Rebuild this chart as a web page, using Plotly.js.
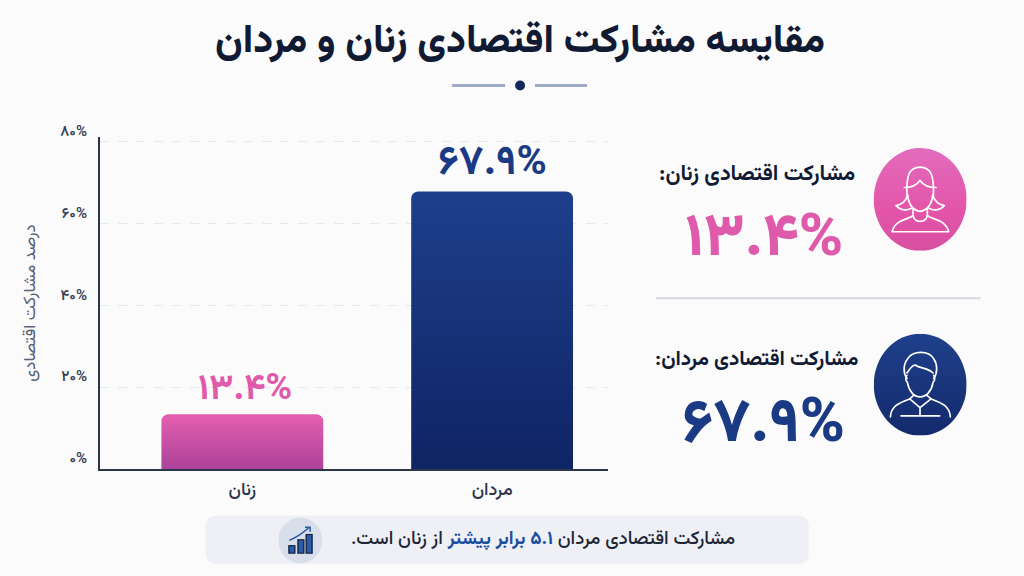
<!DOCTYPE html>
<html lang="fa"><head><meta charset="utf-8">
<script src="https://cdn.plot.ly/plotly-3.0.1.min.js"></script>
<style>html,body{margin:0;padding:0;background:#fbfbfc;overflow:hidden}#c{width:1024px;height:576px}</style>
</head><body><div id="c"></div>
<script>
const categories = ['زنان', 'مردان'];
const values = [13.4, 67.9];
const valueLabels = ['۱۳.۴%', '۶۷.۹%'];
const tickValues = [0, 20, 40, 60, 80];
const tickLabels = ['۰%', '۲۰%', '۴۰%', '۶۰%', '۸۰%'];
const PINK = '#e05aab', NAVY = '#1b3a84', INK = '#111a33';
const FONT = "'Vazirmatn','Noto Sans Arabic','Noto Sans','DejaVu Sans',sans-serif";
const W = 1024, H = 576;
const M = {l: 99.5, r: 416, t: 137, b: 106.5};
const pw = W - M.l - M.r, ph = H - M.t - M.b;
const fx = x => (x - M.l) / pw, fy = y => (H - M.b - y) / ph;
const svg = s => 'data:image/svg+xml;charset=utf-8,' + encodeURIComponent(s);
const S = 'fill="none" stroke="#fff" stroke-width="5" stroke-linecap="round" stroke-linejoin="round"';
const womanIcon = svg(`<svg xmlns="http://www.w3.org/2000/svg" viewBox="0 0 279 307" preserveAspectRatio="none"><defs><linearGradient id="g" x1="0" y1="0" x2="0" y2="1"><stop offset="0" stop-color="#e26cbd"/><stop offset=".6" stop-color="#e355a9"/><stop offset="1" stop-color="#d84fa0"/></linearGradient></defs><ellipse cx="139.5" cy="153.5" rx="139.5" ry="153.5" fill="url(#g)"/><g ${S}><path d="M100,145C97,85 105,57 139,57C173,57 182,85 179,145C183,160 195,168 212,172C198,187 178,188 166,180"/><path d="M100,145C96,160 84,168 67,172C81,187 101,188 113,180"/><path d="M92,118C112,118 130,110 139,97C148,110 166,118 187,118"/><path d="M102,140C104,170 120,187 139,189C158,187 175,170 177,140"/><path d="M118,183V202C105,214 65,212 55,250H225C215,212 174,214 161,202V183"/><path d="M118,202C125,225 155,225 161,202"/></g></svg>`);
const manIcon = svg(`<svg xmlns="http://www.w3.org/2000/svg" viewBox="0 0 279 306" preserveAspectRatio="none"><defs><linearGradient id="g" x1="0" y1="0" x2="0" y2="1"><stop offset="0" stop-color="#1f408c"/><stop offset="1" stop-color="#142a6c"/></linearGradient></defs><ellipse cx="139.5" cy="153" rx="139.5" ry="153" fill="url(#g)"/><g ${S}><path d="M100,135C88,118 88,92 102,75C118,50 165,50 180,75C192,92 192,118 180,135"/><path d="M100,118C108,105 115,96 124,94C140,105 165,103 178,118"/><path d="M100,125C96,130 94,140 101,146C106,172 120,190 139,190C158,190 174,172 178,146C185,140 184,130 180,125"/><path d="M50,250C52,218 75,208 108,196L139,222L172,196C205,208 228,218 230,250"/><path d="M108,196L120,185M172,196L160,185"/><path d="M82,247H198M139,222V247"/></g></svg>`);
const chartIcon = svg(`<svg xmlns="http://www.w3.org/2000/svg" viewBox="0 0 112 140" preserveAspectRatio="none"><ellipse cx="56" cy="70" rx="56" ry="70" fill="#d9dfea"/><g stroke="#14233f" stroke-width="3.5" fill="#2b5cab"><rect x="27" y="86" width="15" height="23"/><rect x="50" y="68" width="15" height="41"/><rect x="71" y="52" width="15" height="57"/></g><path d="M28,70C48,60 65,45 79,30" fill="none" stroke="#2b5cab" stroke-width="4"/><path d="M68,30H81V44" fill="none" stroke="#2b5cab" stroke-width="4"/></svg>`);

const note = (text, x, y, size, color, anchor, weight) => ({
  text, xref: 'paper', yref: 'paper', x: fx(x), y: fy(y), showarrow: false,
  xanchor: anchor || 'center', yanchor: 'middle',
  font: {family: FONT, size, color, weight: weight || 400}
});
const hline = (x0, x1, y, color, width) => ({type: 'line', xref: 'paper', yref: 'paper',
  x0: fx(x0), x1: fx(x1), y0: fy(y), y1: fy(y), line: {color, width}, layer: 'below'});
const rr = (x0, y0, x1, y1, r) => `M${fx(x0+r)},${fy(y0)}L${fx(x1-r)},${fy(y0)}Q${fx(x1)},${fy(y0)} ${fx(x1)},${fy(y0+r)}L${fx(x1)},${fy(y1-r)}Q${fx(x1)},${fy(y1)} ${fx(x1-r)},${fy(y1)}L${fx(x0+r)},${fy(y1)}Q${fx(x0)},${fy(y1)} ${fx(x0)},${fy(y1-r)}L${fx(x0)},${fy(y0+r)}Q${fx(x0)},${fy(y0)} ${fx(x0+r)},${fy(y0)}Z`;
const img = (source, x0, y0, x1, y1) => ({source, xref: 'paper', yref: 'paper', x: fx(x0), y: fy(y0),
  sizex: (x1 - x0) / pw, sizey: (y1 - y0) / ph, xanchor: 'left', yanchor: 'top', sizing: 'stretch', layer: 'above'});

const trace = {
  type: 'bar', x: categories, y: values, width: 0.648,
  marker: {color: [PINK, NAVY], line: {width: 0}},
  hoverinfo: 'x+y'
};
const barLabel = (i, size, color, xshift, yshift) => ({
  text: valueLabels[i], xref: 'x', yref: 'y', x: categories[i], y: values[i], showarrow: false,
  xanchor: 'center', yanchor: 'middle', xshift, yshift,
  font: {family: FONT, size, color, weight: 700}
});
const layout = {
  width: W, height: H, margin: M, showlegend: false, barcornerradius: 7,
  paper_bgcolor: '#fbfbfc', plot_bgcolor: 'rgba(0,0,0,0)', font: {family: FONT},
  xaxis: {type: 'category', categoryorder: 'array', categoryarray: categories, range: [-0.57, 1.464],
    showgrid: false, ticks: '', showline: true, linecolor: '#2d3548', linewidth: 2, zeroline: false,
    ticklabelstandoff: 2, tickfont: {family: FONT, size: 18, color: '#2c3448', weight: 500}},
  yaxis: {range: [0, 81.2], tickmode: 'array', tickvals: tickValues, ticktext: tickLabels, ticks: '',
    showline: true, linecolor: '#2d3548', linewidth: 2, zeroline: false, showgrid: true,
    gridcolor: '#e6e9f0', griddash: 'dash', gridwidth: 1, ticklabelstandoff: 8, ticklabelshift: -11,
    tickfont: {family: FONT, size: 15, color: '#3a4254', weight: 600},
    title: {text: 'درصد مشارکت اقتصادی', standoff: 20, font: {family: FONT, size: 17, color: '#5a6376'}}},
  shapes: [
    hline(452, 505, 85.5, '#9caac4', 3), hline(535, 587, 85.5, '#9caac4', 3),
    {type: 'circle', xref: 'paper', yref: 'paper', x0: fx(515), x1: fx(525), y0: fy(80.5), y1: fy(90.5), fillcolor: '#13295b', line: {width: 0}},
    hline(656, 981, 298.5, '#d5dae2', 2),
    {type: 'path', xref: 'paper', yref: 'paper', path: rr(205, 516, 809, 565, 12), fillcolor: '#eef0f5', line: {width: 0}, layer: 'below'}
  ],
  images: [img(womanIcon, 874, 148, 967, 251), img(manIcon, 874, 334, 967, 436), img(chartIcon, 278, 518, 322, 564)],
  annotations: [
    note('مقایسه مشارکت اقتصادی زنان و مردان', 520, 42, 39.5, INK, 'center', 800),
    note('مشارکت اقتصادی زنان:\u200F', 857, 175, 21.5, INK, 'right', 700),
    note(valueLabels[0], 764.5, 240, 60, PINK, 'center', 800),
    note('مشارکت اقتصادی مردان:\u200F', 861, 360, 20.6, INK, 'right', 700),
    note(valueLabels[1], 764, 426, 61, NAVY, 'center', 800),
    note('مشارکت اقتصادی مردان <b><span style="color:#1a4fa0">۵.۱ برابر پیشتر</span></b> از زنان است.\u200F', 543, 540, 18.7, '#1e2638', 'center', 500),
    barLabel(0, 36, PINK, 3, 24.5),
    barLabel(1, 41, NAVY, 0, 27.5)
  ]
};
Plotly.newPlot('c', [trace], layout, {displayModeBar: false, staticPlot: true}).then(gd => {
  const root = gd.querySelector('svg.main-svg');
  const NS = 'http://www.w3.org/2000/svg';
  const defs = root.querySelector('defs') || root.insertBefore(document.createElementNS(NS, 'defs'), root.firstChild);
  const stops = [['#e55fb0', '#ab4299'], ['#1e3f8c', '#0f2463']];
  gd.querySelectorAll('.bars .point path').forEach((p, i) => {
    const g = document.createElementNS(NS, 'linearGradient');
    g.setAttribute('id', 'barGrad' + i);
    ['x1', 'x2', 'y1'].forEach(a => g.setAttribute(a, '0'));
    g.setAttribute('y2', '1');
    stops[i].forEach((c, k) => {
      const s = document.createElementNS(NS, 'stop');
      s.setAttribute('offset', k); s.setAttribute('stop-color', c); g.appendChild(s);
    });
    defs.appendChild(g);
    p.style.fill = 'url(#barGrad' + i + ')';
  });
});
</script></body></html>
